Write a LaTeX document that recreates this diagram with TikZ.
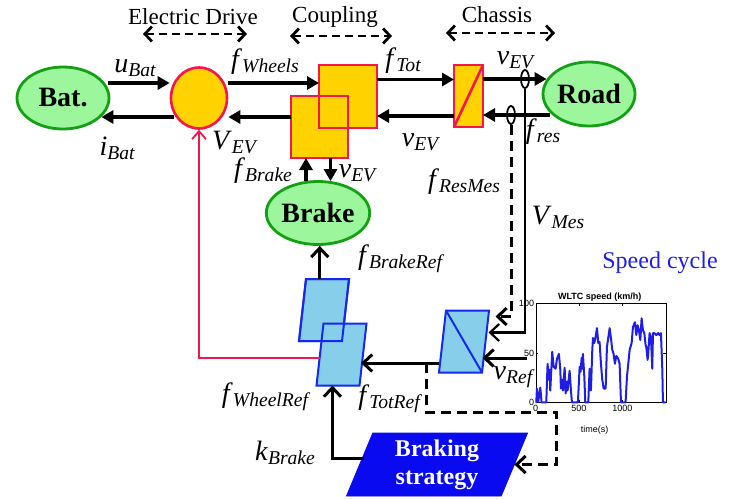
\documentclass[tikz,border=0pt]{standalone}
\usepackage{fontspec}
\setmainfont{Liberation Serif}
\newfontfamily\plotfont{Liberation Sans}
\usetikzlibrary{arrows.meta,calc,shapes.geometric}

\definecolor{ellfill}{HTML}{9CF79C}
\definecolor{ellline}{HTML}{14A014}
\definecolor{gold}{HTML}{FFD200}
\definecolor{conred}{HTML}{F5164B}
\definecolor{skyfill}{HTML}{87CEEB}
\definecolor{skyline}{HTML}{1428F0}
\definecolor{stratblue}{HTML}{0A0AF0}
\definecolor{cycblue}{HTML}{1E1EE6}

\newcommand{\sym}[2]{\textit{#1}\raisebox{-2pt}{\fontsize{9.8}{10}\selectfont\itshape #2}}

\begin{document}
\begin{tikzpicture}[x=0.5pt, y=-0.5pt,
  ell/.style={ellipse, draw=ellline, fill=ellfill, line width=1.4pt, inner sep=0pt, font=\fontsize{14}{16}\selectfont\bfseries},
  cpl/.style={rectangle, draw=conred, fill=gold, line width=1.3pt, inner sep=0pt, outer sep=0pt},
  para/.style={trapezium, trapezium left angle=79, trapezium right angle=101, trapezium stretches=true, draw=skyline, fill=skyfill, line width=1pt, inner sep=1pt, outer sep=0pt, minimum width=25pt, minimum height=31pt},
  sensor/.style={ellipse, draw, line width=0.9pt, minimum width=4pt, minimum height=9pt, inner sep=0pt},
  fl/.style={-{Triangle[length=6pt,width=6.5pt]}, line width=1.8pt},
  bl/.style={-{Straight Barb[length=4.5pt,width=8.5pt]}, line width=1.5pt},
  dl/.style={bl, dash pattern=on 5pt off 3pt},
  hdr/.style={{Straight Barb[length=3.5pt,width=7.5pt]}-{Straight Barb[length=3.5pt,width=7.5pt]}, line width=1.4pt, dash pattern=on 4pt off 2.5pt},
  lbl/.style={font=\fontsize{14}{16}\selectfont, inner sep=0pt},
  hd/.style={font=\fontsize{11.5}{13}\selectfont, inner sep=0pt}]
\useasboundingbox (0,0) rectangle (731,498);

% headers
\node[hd] (hED) at (193,17) {Electric Drive};
\node[hd] (hCp) at (335,17) {Coupling};
\node[hd] (hCh) at (497,15) {Chassis};
\draw[hdr] ($(hED)+(-50,17)$) -- ($(hED)+(54,17)$);
\draw[hdr] ($(hCp)+(-45,19)$) -- ($(hCp)+(57,19)$);
\draw[hdr] ($(hCh)+(-51,18)$) -- ($(hCh)+(58,18)$);

% energetic part
\node[ell, minimum width=46pt, minimum height=31pt] (bat) at (63,98) {Bat.};
\node[ellipse, draw=conred, fill=gold, line width=1.3pt, minimum width=28pt, minimum height=30.5pt, inner sep=0pt] (ed) at (199,98) {};
\node[cpl, minimum width=29pt, minimum height=31.5pt] (cpA) at (348,96.5) {};
\node[cpl, minimum width=28.5pt, minimum height=31pt] (cpB) at (319.5,127) {};
\draw[conred, line width=1.3pt] (cpA.south west) rectangle (cpA.north east);
\node[cpl, minimum width=14.5pt, minimum height=31pt] (chs) at (468.5,96) {};
\draw[conred, line width=1.3pt] (chs.south west) -- (chs.north east);
\node[ell, minimum width=46pt, minimum height=32pt] (road) at (589,94) {Road};
\node[ell, minimum width=45pt, minimum height=31.5pt] (brake) at (318,213) {Brake};

\draw[fl] ($(bat.east)+(-2,-15)$) -- ($(ed.west)+(0,-15)$);
\draw[fl] ($(ed.west)+(4,19)$) -- ($(bat.east)+(-9,19)$);
\draw[fl] ($(ed.east)+(0,-15)$) coordinate (w1) -- (cpA.west |- w1);
\draw[fl] ($(cpB.west)+(0,-10)$) coordinate (w2) -- (ed.east |- w2);
\draw[fl] ($(cpA.east)+(0,-17)$) coordinate (t1) -- (chs.west |- t1);
\draw[fl] ($(chs.west)+(0,20)$) coordinate (t2) -- (cpA.east |- t2);
\draw[fl] ($(chs.east)+(0,-17)$) -- ($(road.west)+(5,-15)$);
\draw[fl] ($(road.west)+(8,21)$) -- ($(chs.east)+(0,19)$);
\draw[fl] ($(brake.north)+(-12,1)$) coordinate (k1) -- (k1 |- cpB.south);
\draw[fl] ($(cpB.south)+(11,0)$) coordinate (k2) -- ($(k2 |- brake.north)+(0,1)$);

\node[sensor] (sV) at (525,79) {};
\node[sensor] (sF) at (511,115) {};

% control part
\node[para] (bsp) at (324,310) {};
\node[para] (wsp) at (341.5,354.5) {};
\draw[skyline, line width=1pt] (bsp.top left corner) -- (bsp.top right corner) -- (bsp.bottom right corner) -- (bsp.bottom left corner) -- cycle;
\node[para] (conv) at (464,341.5) {};
\draw[skyline, line width=1pt] (conv.top left corner) -- (conv.bottom right corner);
\node[trapezium, trapezium left angle=71, trapezium right angle=109, trapezium stretches=true, draw=stratblue, fill=stratblue, text=white, align=center, inner sep=0pt, outer sep=0pt, minimum width=91pt, minimum height=31.5pt, font=\fontsize{12}{14}\selectfont\bfseries] (bst) at (437,464.5) {Braking\\strategy};

\draw[line width=1.1pt, -{Straight Barb[length=4.5pt,width=8.5pt]}] (sV.south) |- ($(conv.east)+(3,-9)$);
\draw[dl] (sF.south) |- ($(conv.east)+(10,-25)$);

% speed cycle
\node[draw, line width=0.4pt, minimum width=65pt, minimum height=49.5pt, inner sep=0pt] (cyc) at (601,352.5) {};
\begin{scope}[shift={(cyc.south west)}, x=0.04333pt, y=0.495pt, font=\plotfont\fontsize{4.5}{5}\selectfont]
  \foreach \v in {50,100} {
    \draw[line width=0.3pt] (0,\v) -- ++(1.2pt,0pt);
    \draw[line width=0.3pt] (1500,\v) -- ++(-1.2pt,0pt);
  }
  \foreach \t in {500,1000} {
    \draw[line width=0.3pt] (\t,0) -- ++(0pt,1.2pt);
    \draw[line width=0.3pt] (\t,100) -- ++(0pt,-1.2pt);
  }
  \foreach \v in {0,50,100} \node[anchor=east, inner sep=0.6pt] at (0,\v) {\v};
  \foreach \t in {0,500,1000} \node[anchor=north, inner sep=1.2pt] at (\t,0) {\t};
  \node[anchor=south, inner sep=1pt, font=\plotfont\bfseries\fontsize{4.5}{5}\selectfont] at (740,100) {WLTC speed (km/h)};
  \node at (680,-28) {time(s)};
  \draw[cycblue, line width=1pt, line join=round] plot coordinates {
    (0,0) (8,0) (15,14) (31,1) (54,15) (69,0) (123,0) (138,39) (154,23) (162,33) (169,12)
    (192,51) (208,36) (231,34) (246,44) (269,49) (285,33) (292,14) (308,23) (315,12) (335,35)
    (346,9) (362,21) (369,12) (392,32) (408,12) (419,0) (488,0) (508,36) (519,31) (531,45)
    (538,34) (546,49) (562,26) (573,0) (608,0) (623,34) (638,12) (654,53) (662,65) (677,60)
    (692,66) (708,75) (723,60) (738,61) (754,39) (769,23) (785,14) (808,14) (823,56) (838,65)
    (854,75) (869,65) (885,53) (900,49) (915,39) (931,47) (954,44) (969,39) (985,0) (1038,0)
    (1054,26) (1069,39) (1085,53) (1108,60) (1123,76) (1146,81) (1162,68) (1177,78) (1192,73)
    (1208,63) (1223,85) (1238,73) (1254,70) (1269,58) (1277,56) (1292,43) (1300,50) (1315,70)
    (1331,65) (1346,34) (1354,70) (1369,70) (1392,68) (1415,70) (1431,68) (1446,70) (1462,33)
    (1469,0) (1500,0)};
\end{scope}
\node[font=\fontsize{12}{14}\selectfont, text=cycblue, inner sep=0pt] (lcyc) at (660,263) {Speed cycle};

\draw[bl] ($(cyc.west)+(-9,5.5)$) -- ($(conv.east)+(-3,16.5)$);
\draw[bl] ($(conv.west)+(-4,21.5)$) coordinate (j0) -- ($(wsp.east)+(-2,8.5)$);
\draw[dl] ($(j0)+(-12,0)$) |- ($(bst.east)+(42,-52)$) |- (bst.east);
\draw[conred, line width=0.9pt, -{Straight Barb[length=4pt,width=7pt]}] ($(wsp.west)+(0,3.5)$) -| (ed.south);
\draw[bl] ($(bsp.top left corner)!0.32!(bsp.top right corner)$) coordinate (k3) -- (k3 |- brake.south);
\draw[bl] ($(bst.west)+(4,-6.5)$) -| ($(wsp.bottom left corner)!0.37!(wsp.bottom right corner)$);

% labels
\node[lbl] (luBat) at (135,68) {\sym{u}{Bat}};
\node[lbl] (liBat) at (117,148) {\sym{i}{Bat}};
\node[lbl] (lfWh) at (265,62) {\sym{f}{Wheels}};
\node[lbl] (lVEV) at (234,142) {\sym{V}{EV}};
\node[lbl] (lfTot) at (403,61) {\sym{f}{Tot}};
\node[lbl] (lvEVa) at (420,142) {\sym{v}{EV}};
\node[lbl] (lvEVb) at (515,60) {\sym{v}{EV}};
\node[lbl] (lfres) at (543,132) {\sym{f}{res}};
\node[lbl] (lfBr) at (263,171) {\sym{f}{Brake}};
\node[lbl] (lvEVc) at (357,173) {\sym{v}{EV}};
\node[lbl] (lfRM) at (464,182) {\sym{f}{ResMes}};
\node[lbl] (lVMes) at (558,217) {\sym{V}{Mes}};
\node[lbl] (lfBR) at (400,259) {\sym{f}{BrakeRef}};
\node[lbl] (lvRef) at (513,377) {\sym{v}{Ref}};
\node[lbl] (lfTR) at (389,399) {\sym{f}{TotRef}};
\node[lbl] (lfWR) at (265,397) {\sym{f}{WheelRef}};
\node[lbl] (lkBr) at (285,453) {\sym{k}{Brake}};
\end{tikzpicture}
\end{document}
